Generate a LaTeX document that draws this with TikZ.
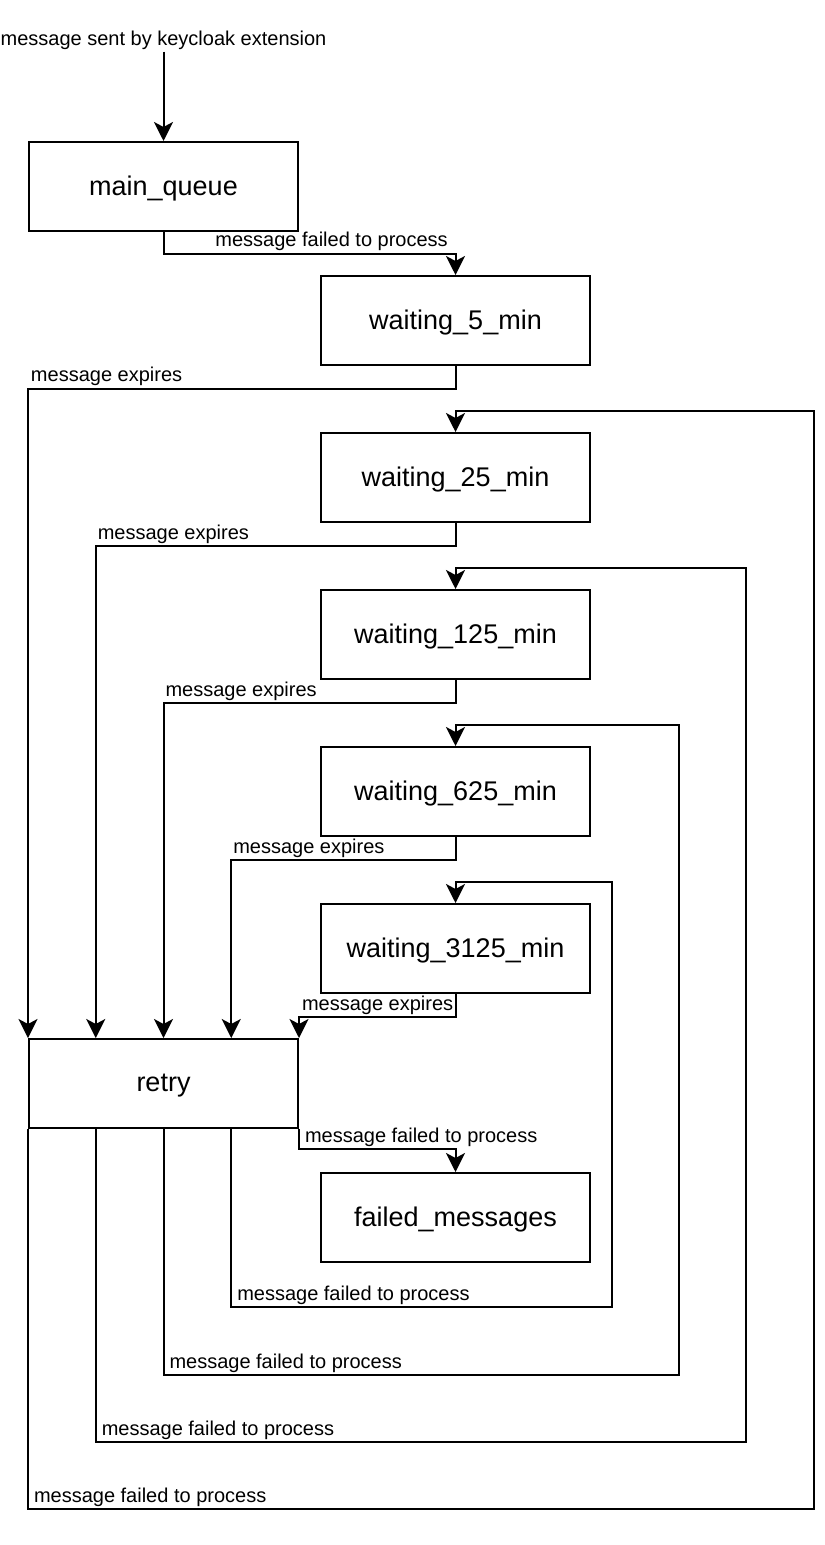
\documentclass[tikz,border=0pt]{standalone}
\usepackage{fontspec}
\setmainfont{Liberation Sans}
\usetikzlibrary{arrows.meta,calc}

\tikzset{
  queue/.style={draw, line width=1pt, minimum width=134.5pt, minimum height=44.5pt,
    inner sep=0pt, text depth=0.5pt, font=\fontsize{13.5}{16}\selectfont},
  flow/.style={line width=1pt, -{Stealth[length=9.5pt,width=9.5pt,inset=2.5pt]}},
  lbl/.style={anchor=base west, inner sep=0pt, yshift=3.5pt, font=\fontsize{10}{12}\selectfont},
}

\begin{document}
\begin{tikzpicture}[x=0.5pt,y=-0.5pt]
\useasboundingbox (0,0) rectangle (824,1545);

% --- Source text ---
\node[inner sep=0pt, font=\fontsize{10}{12}\selectfont] (src) at (163.5,40) {message sent by keycloak extension};

% --- Queues ---
\node[queue] (main) at (163.5,186.5) {main\_queue};
\node[queue] (w5) at (455.5,320.5) {waiting\_5\_min};
\node[queue] (w25) at (455.5,477.5) {waiting\_25\_min};
\node[queue] (w125) at (455.5,634.5) {waiting\_125\_min};
\node[queue] (w625) at (455.5,791.5) {waiting\_625\_min};
\node[queue] (w3125) at (455.5,948.5) {waiting\_3125\_min};
\node[queue] (retry) at (163.5,1083.5) {retry};
\node[queue] (failed) at (455.5,1217.5) {failed\_messages};

% --- Ports on retry ---
\foreach \i in {0,...,4}
  \coordinate (rt\i) at ($(retry.north west)!\i/4!(retry.north east)$);
\foreach \i in {0,...,3}
  \coordinate (rb\i) at ($(retry.south west)!\i/4!(retry.south east)$);

% --- Entry ---
\draw[flow] ([yshift=-1pt]src.south) -- (main.north);
\draw[flow] (main.south) -- ++(0,22) -| (w5.north);
\node[lbl] (lmain) at (215,254) {message failed to process};

% --- Expiry edges ---
\draw[flow] (w5.south) -- ++(0,23) -| (rt0) node[lbl, pos=0.5, xshift=1pt] (lexp5) {message expires};
\draw[flow] (w25.south) -- ++(0,23) -| (rt1) node[lbl, pos=0.5, xshift=0.5pt] (lexp25) {message expires};
\draw[flow] (w125.south) -- ++(0,23) -| (rt2) node[lbl, pos=0.5, xshift=0.5pt] (lexp125) {message expires};
\draw[flow] (w625.south) -- ++(0,23) -| (rt3) node[lbl, pos=0.5, xshift=0.5pt] (lexp625) {message expires};
\draw[flow] (w3125.south) -- ++(0,23) -| (rt4) node[lbl, pos=0.5, xshift=1pt] (lexp3125) {message expires};

% --- Retry edges ---
\draw[flow] (retry.south east) |- ([yshift=11.5pt]failed.north) node[lbl, pos=0.5, xshift=2.5pt] (lfail) {message failed to process} -- (failed.north);
\draw[flow] (rb3) |- (612,1307) node[lbl, pos=0.5, xshift=2.5pt] (lret3) {message failed to process} -- (612,882) -| (w3125.north);
\draw[flow] (rb2) |- (679,1375) node[lbl, pos=0.5, xshift=2.5pt] (lret2) {message failed to process} -- (679,725) -| (w625.north);
\draw[flow] (rb1) |- (746,1442) node[lbl, pos=0.5, xshift=2.5pt] (lret1) {message failed to process} -- (746,568) -| (w125.north);
\draw[flow] (rb0) |- (814,1509) node[lbl, pos=0.5, xshift=2.5pt] (lret0) {message failed to process} -- (814,411) -| (w25.north);
\end{tikzpicture}
\end{document}
